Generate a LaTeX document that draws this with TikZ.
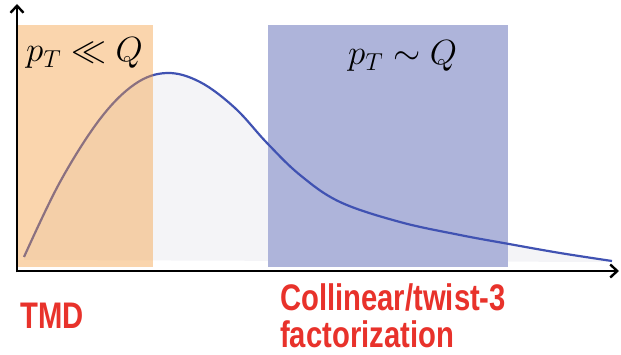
\RequirePackage{fix-cm}
\documentclass[tikz,border=0pt]{standalone}
\usepackage{fontspec}
\newfontfamily\labelfont{Liberation Sans}
\usetikzlibrary{arrows.meta}
\definecolor{curveblue}{RGB}{64,82,178}
\definecolor{boxblue}{RGB}{174,180,218}
\definecolor{boxorange}{RGB}{244,156,60}
\definecolor{greyfill}{RGB}{244,244,247}
\definecolor{labelred}{RGB}{232,50,43}
\tikzset{
  axis/.style={line width=2.6pt, -{Straight Barb[length=7pt,width=13pt,line width=2.4pt]}},
  regionlabel/.style={anchor=base west, inner sep=0pt, font=\fontsize{35}{35}\selectfont},
  redlabel/.style={anchor=base west, inner sep=0pt, text=labelred, font=\labelfont\bfseries\fontsize{37}{37}\selectfont},
}
\begin{document}
\begin{tikzpicture}[x=1pt,y=-1pt]
\useasboundingbox (0,0) rectangle (621,355);
% grey fill under curve
\fill[greyfill] plot[smooth,tension=0.6] coordinates {(24,257) (60,182) (100,119) (135,84) (167,73) (200,82) (235,108) (267,143) (300,175) (340,202) (400,222) (460,235) (509,244) (560,253) (612,261)} -- (612,262) -- (24,260) -- cycle;
% blue region
\fill[boxblue] (268,25) rectangle (508,267);
% curve
\draw[curveblue, line width=2.2pt] plot[smooth,tension=0.6] coordinates {(24,257) (60,182) (100,119) (135,84) (167,73) (200,82) (235,108) (267,143) (300,175) (340,202) (400,222) (460,235) (509,244) (560,253) (612,261)};
% orange region
\fill[boxorange, fill opacity=0.42] (18,25) rectangle (153,267);
% axes
\coordinate (o) at (17,271);
\coordinate (xend) at (619,271);
\coordinate (yend) at (17,4);
\draw[axis] (o) -- (xend);
\draw[axis] ([yshift=-1.3pt]o) -- (yend);
% labels
\node[regionlabel] (low) at (26,62) {$p_T \ll Q$};
\node[regionlabel] (high) at (348,65) {$p_T \sim Q$};
\node[redlabel] (tmd) at (20,328) {\scalebox{0.79}[1]{TMD}};
\node[redlabel] (col) at (280,311) {\scalebox{0.79}[1]{Collinear/twist-3}};
\node[redlabel] (fac) at (280,347) {\scalebox{0.79}[1]{factorization}};
\end{tikzpicture}
\end{document}
